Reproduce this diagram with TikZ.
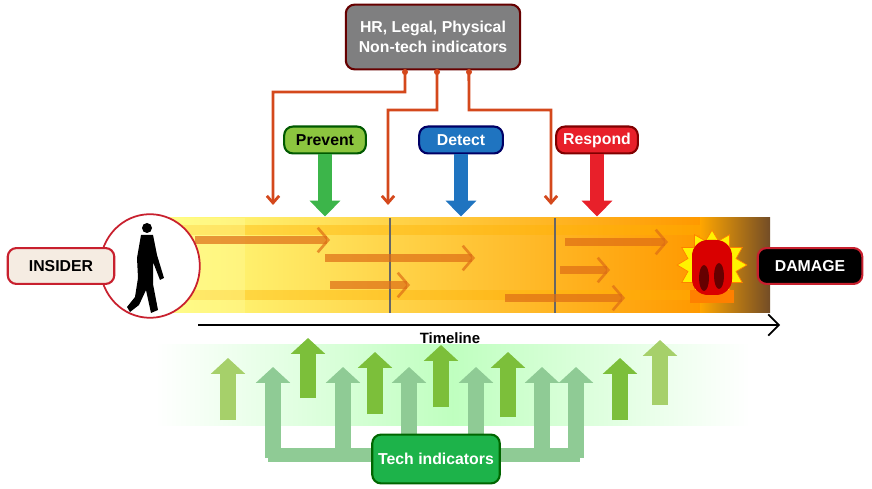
\documentclass[tikz,border=0pt]{standalone}
\usepackage{fontspec}
\setmainfont{Liberation Sans}
\usetikzlibrary{arrows.meta,shapes.geometric,positioning}
\definecolor{hrgray}{HTML}{7F7F80}
\definecolor{boxred}{HTML}{C8202E}
\definecolor{wire}{HTML}{D4481C}
\definecolor{prevgreen}{HTML}{8CC63F}
\definecolor{prevarrow}{HTML}{3CB54A}
\definecolor{detblue}{HTML}{1F74C0}
\definecolor{respred}{HTML}{E8202A}
\definecolor{techgreen}{HTML}{1DB34A}
\definecolor{light}{HTML}{A6D06A}
\definecolor{dark}{HTML}{7CBF3A}
\definecolor{mid}{HTML}{8FCB95}
\tikzset{
  lbl/.style={rounded corners=5pt, line width=1.2pt, font=\bfseries\fontsize{9}{11}\selectfont, align=center},
  wireline/.style={wire, line width=1.6pt, -{Straight Barb[length=4pt,width=7pt]}},
  phase/.style={line width=8pt, -{Triangle[length=9pt,width=17pt]}},
  upa/.style={line width=9pt, -{Triangle[length=9pt,width=19pt]}},
  flow/.style={wire!80!yellow, opacity=0.7, line width=5pt, -{Straight Barb[length=6pt,width=14pt,line width=1.5pt]}}
}
\begin{document}
\begin{tikzpicture}[x=0.02cm,y=-0.02cm]
\useasboundingbox (0,0) rectangle (872,489);
% green background band
\shade[left color=white, right color=white, middle color=green!25!white] (155,345) rectangle (750,425);
% tech connectors
\begin{scope}[mid, line width=8pt]
  \draw (268,455) -- (580,455);
  \foreach \x in {273,343,409,476,542,576}
    \draw[upa, mid] (\x,458) -- (\x,367);
\end{scope}
% up arrows
\foreach \x/\t/\b/\c in {228/358/420/light, 308/338/398/dark, 375/352/414/dark, 441/345/407/dark,
    508/352/417/dark, 620/358/420/dark, 660/340/405/light}
  \draw[upa, \c] (\x,\b) -- (\x,\t);
\node[lbl, fill=techgreen, draw=green!40!black, text=white, minimum width=128pt*0.567, minimum height=49pt*0.567] (tech) at (436,459) {Tech indicators};
% timeline band
\shade[left color=yellow!50, right color=orange!80!yellow] (165,218) rectangle (700,313);
\shade[left color=orange!70!yellow, right color=brown!60!black] (700,218) rectangle (770,313);
\fill[orange!60!yellow, opacity=0.4] (165,225) rectangle (700,235);
\fill[orange!60!yellow, opacity=0.4] (165,290) rectangle (700,300);
\fill[yellow!40, opacity=0.4] (165,218) rectangle (245,313);
\foreach \x in {390,555}
  \draw[black!60, line width=1.5pt] (\x,218) -- (\x,313);
% flow arrows
\foreach \a/\b/\y in {195/330/240, 330/410/285, 325/475/258, 505/625/298, 560/610/270, 565/668/242}
  \draw[flow] (\a,\y) -- (\b,\y);
% alarm
\node[star, star points=12, star point ratio=1.4, fill=yellow, draw=orange, minimum size=70pt*0.567] (alarm) at (712,265) {};
\fill[orange] (690,290) rectangle (734,303);
\fill[red!85!black, rounded corners=9pt] (692,295) rectangle (732,240);
\fill[red!40!black] (704,278) ellipse (5 and 13);
\fill[red!40!black] (719,276) ellipse (5 and 13);
% insider
\node[ellipse, draw=boxred, fill=white, line width=1pt, minimum width=100pt*0.567, minimum height=104pt*0.567] (circ) at (150,266) {};
\fill[black] (147,228) circle (5);
\fill[black] (141,235) -- (153,235) -- (157,255) -- (164,278) -- (160,280) -- (153,262) -- (153,284) -- (158,310) -- (151,313) -- (146,290) -- (139,305) -- (130,312) -- (127,307) -- (135,297) -- (138,278) -- (137,258) -- cycle;
\node[lbl, fill=brown!15, draw=boxred, minimum width=107pt*0.567, minimum height=36pt*0.567] (insider) at (61,266) {INSIDER};
\node[lbl, fill=black, draw=boxred, text=white, minimum width=105pt*0.567, minimum height=36pt*0.567] (damage) at (810,266) {DAMAGE};
% timeline
\draw[-{Straight Barb[length=6pt,width=12pt]}, line width=1pt] (198,325) coordinate (t0) -- (780,325) coordinate (t1);
\node[font=\bfseries\fontsize{8.5}{10}\selectfont, below] (tl) at (450,326) {Timeline};
% top
\node[lbl, fill=hrgray, draw=red!40!black, text=white, minimum width=175pt*0.567, minimum height=65pt*0.567] (hr) at (433,37) {HR, Legal, Physical\\Non-tech indicators};
\coordinate (w1) at (273,205);
\coordinate (w2) at (388,205);
\coordinate (w3) at (551,205);
\draw[wireline] ([xshift=-28*0.567pt]hr.south) -- (405,92) -- (273,92) -- (w1);
\draw[wireline] ([xshift=4*0.567pt]hr.south) -- (437,110) -- (388,110) -- (w2);
\draw[wireline] ([xshift=36*0.567pt]hr.south) -- (469,110) -- (551,110) -- (w3);
\foreach \x in {405,437,469} \fill[wire] (\x,72) circle (3);
% phases
\node[lbl, fill=prevgreen, draw=green!35!black, minimum width=82pt*0.567, minimum height=27pt*0.567] (prevent) at (325,140) {Prevent};
\node[lbl, fill=detblue, draw=blue!40!black, text=white, minimum width=84pt*0.567, minimum height=27pt*0.567] (detect) at (461,140) {Detect};
\node[lbl, fill=respred, draw=red!50!black, text=white, minimum width=82pt*0.567, minimum height=27pt*0.567] (respond) at (597,140) {Respond};
\draw[phase, prevarrow] (prevent.south) -- ++(0,62);
\draw[phase, detblue] (detect.south) -- ++(0,62);
\draw[phase, respred] (respond.south) -- ++(0,62);
\end{tikzpicture}
\end{document}
